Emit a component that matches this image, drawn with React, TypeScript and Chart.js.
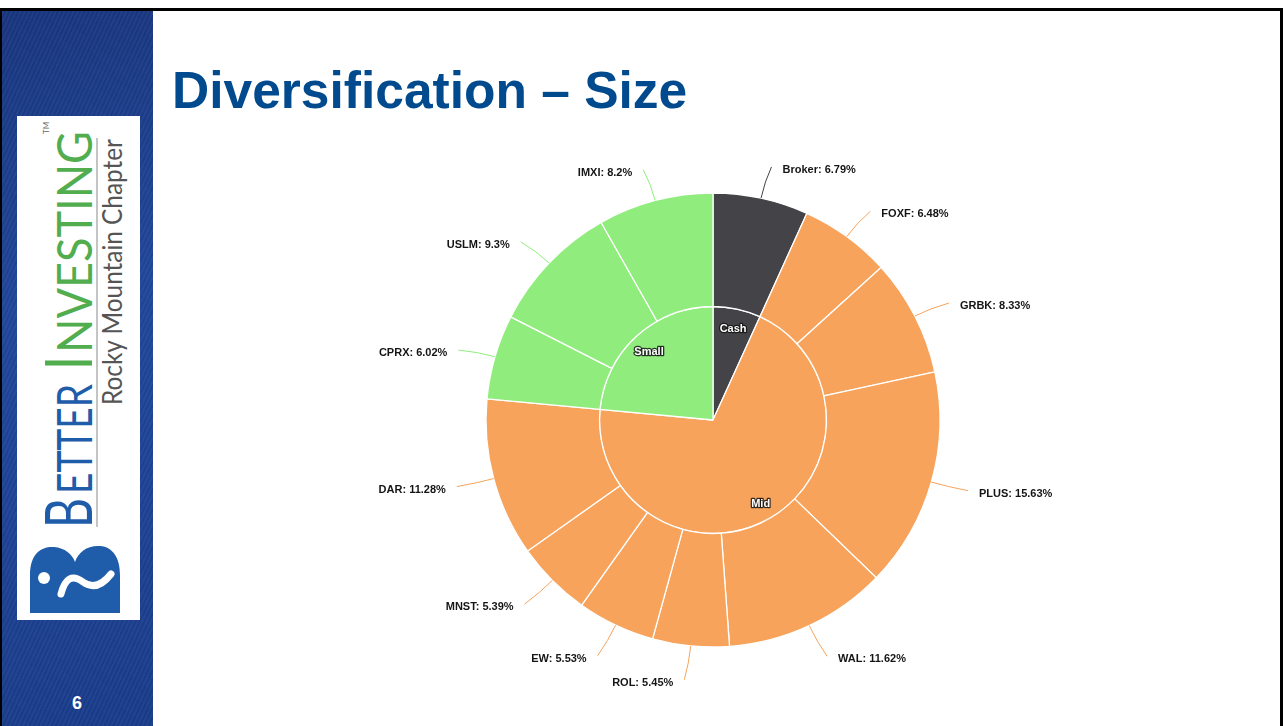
import React, { useEffect, useRef } from 'react';
import { Chart, registerables } from 'chart.js';

Chart.register(...registerables);

// ---- Data ----
const holdingLabels = ['Broker', 'FOXF', 'GRBK', 'PLUS', 'WAL', 'ROL', 'EW', 'MNST', 'DAR', 'CPRX', 'USLM', 'IMXI'];
const holdingValues = [6.79, 6.48, 8.33, 15.63, 11.62, 5.45, 5.53, 5.39, 11.28, 6.02, 9.3, 8.2];
const holdingGroups = ['Cash', 'Mid', 'Mid', 'Mid', 'Mid', 'Mid', 'Mid', 'Mid', 'Mid', 'Small', 'Small', 'Small'];
const groupLabels = ['Cash', 'Mid', 'Small'];
const groupValues = [6.79, 69.71, 23.52];
const groupColors: Record<string, string> = { Cash: '#434348', Mid: '#f7a35c', Small: '#90ed7d' };

const labelPlugin = {
  id: 'sunburstLabels',
  afterDatasetsDraw(chart: any) {
    const ctx = chart.ctx as CanvasRenderingContext2D;
    const outer = chart.getDatasetMeta(0);
    const inner = chart.getDatasetMeta(1);
    ctx.save();
    ctx.font = 'bold 11px "Liberation Sans", Arial, sans-serif';
    ctx.textBaseline = 'middle';
    outer.data.forEach((arc: any, i: number) => {
      const { x, y, startAngle, endAngle, outerRadius } = arc.getProps(['x', 'y', 'startAngle', 'endAngle', 'outerRadius'], true);
      const mid = (startAngle + endAngle) / 2;
      const c = Math.cos(mid);
      const s = Math.sin(mid);
      const side = c >= 0 ? 1 : -1;
      const dy = s < 0 ? 5 : 1;
      const ex = x + outerRadius * c;
      const ey = y + outerRadius * s;
      const kx = x + (outerRadius + 17) * c;
      const ky = y + (outerRadius + 17) * s;
      const px = x + (outerRadius + 35) * c;
      const py = y + (outerRadius + 35) * s + dy;
      const qx = px + side * 3;
      const qy = py - 2;
      ctx.strokeStyle = groupColors[holdingGroups[i]];
      ctx.lineWidth = 1;
      ctx.beginPath();
      ctx.moveTo(ex, ey);
      ctx.quadraticCurveTo(kx, ky, qx, qy);
      ctx.stroke();
      ctx.fillStyle = '#151515';
      ctx.textAlign = side > 0 ? 'left' : 'right';
      ctx.fillText(`${holdingLabels[i]}: ${holdingValues[i]}%`, px + side * 14, py + 1);
    });
    inner.data.forEach((arc: any, i: number) => {
      const { x, y, startAngle, endAngle } = arc.getProps(['x', 'y', 'startAngle', 'endAngle'], true);
      const mid = (startAngle + endAngle) / 2;
      const r = 95;
      const lx = x + r * Math.cos(mid);
      const ly = y + r * Math.sin(mid) + 2;
      ctx.textAlign = 'center';
      ctx.lineJoin = 'round';
      ctx.lineWidth = 2.5;
      ctx.strokeStyle = 'rgba(20,20,20,0.85)';
      ctx.strokeText(groupLabels[i], lx, ly);
      ctx.fillStyle = '#ffffff';
      ctx.fillText(groupLabels[i], lx, ly);
    });
    ctx.restore();
  },
};

export default function App() {
  const ref = useRef<HTMLCanvasElement>(null);

  useEffect(() => {
    if (!ref.current) return;
    const chart = new Chart(ref.current, {
      type: 'doughnut',
      data: {
        labels: holdingLabels,
        datasets: [
          {
            data: holdingValues,
            backgroundColor: holdingGroups.map((g) => groupColors[g]),
            borderColor: '#ffffff',
            borderWidth: 1.3,
          },
          {
            data: groupValues,
            backgroundColor: groupLabels.map((g) => groupColors[g]),
            borderColor: '#ffffff',
            borderWidth: 1.3,
          },
        ],
      },
      options: {
        responsive: false,
        animation: false,
        events: [],
        radius: 227,
        cutout: 0,
        layout: { padding: 0 },
        plugins: { legend: { display: false }, tooltip: { enabled: false } },
      } as any,
      plugins: [labelPlugin],
    });
    return () => chart.destroy();
  }, []);

  const navy = '#1f5caa';
  const green = '#52ad4f';

  return (
    <div
      style={{
        position: 'fixed',
        left: 0,
        top: 0,
        width: 1283,
        height: 726,
        background: '#ffffff',
        overflow: 'hidden',
        fontFamily: 'Arial, "Liberation Sans", sans-serif',
      }}
    >
      {/* frame */}
      <div
        style={{
          position: 'absolute',
          left: 0,
          top: 8,
          width: 1283,
          height: 740,
          borderTop: '3px solid #000',
          borderLeft: '2px solid #000',
          borderRight: '3px solid #000',
          boxSizing: 'border-box',
        }}
      />
      {/* sidebar */}
      <div
        style={{
          position: 'absolute',
          left: 2,
          top: 11,
          width: 151,
          height: 715,
          background:
            'repeating-linear-gradient(115deg, rgba(255,255,255,0.03) 0px, rgba(255,255,255,0.03) 2px, rgba(0,0,0,0.035) 2px, rgba(0,0,0,0.035) 4px), linear-gradient(165deg, #19367f 0%, #21479a 40%, #1e4395 70%, #1a3c8a 100%)',
        }}
      />
      {/* logo */}
      <svg style={{ position: 'absolute', left: 17, top: 116 }} width={123} height={504}>
        <rect x={0} y={0} width={123} height={504} fill="#ffffff" />
        <g transform="translate(0,504) rotate(-90)">
          <path
            d="M 7 13 L 45 13 C 68 13 74 26 73 37 C 72 48 66 55 58 58 C 68 61 75 71 74 83 C 73 96 62 103 45 103 L 7 103 Z"
            fill={navy}
          />
          <circle cx={42} cy={27} r={6} fill="#ffffff" />
          <path d="M 26 44 Q 50 50 38 66 Q 28 80 46 94" stroke="#ffffff" strokeWidth={7} fill="none" strokeLinecap="round" />
          <text x={92} y={75} fontSize={65} fill={navy} fontFamily="Lato" textLength={30} lengthAdjust="spacingAndGlyphs">B</text>
          <text x={126} y={75} fontSize={49} fill={navy} fontFamily="Lato" textLength={110} lengthAdjust="spacingAndGlyphs">ETTER</text>
          <text x={250} y={75} fontSize={65} fill={green} fontFamily="Lato" textLength={14} lengthAdjust="spacingAndGlyphs">I</text>
          <text x={267} y={75} fontSize={49} fill={green} fontFamily="Lato" textLength={222} lengthAdjust="spacingAndGlyphs">NVESTING</text>
          <text x={486} y={32} fontSize={8} fill="#666" fontFamily="Lato">TM</text>
          <line x1={93} y1={80} x2={482} y2={80} stroke="#b0b0b0" strokeWidth={1.5} />
          <text x={215} y={105} fontSize={26} fill="#555555" fontFamily="Lato" textLength={266} lengthAdjust="spacingAndGlyphs">Rocky Mountain Chapter</text>
        </g>
      </svg>
      {/* page number */}
      <div
        style={{
          position: 'absolute',
          left: 62,
          top: 694,
          width: 30,
          textAlign: 'center',
          color: '#ffffff',
          fontWeight: 'bold',
          fontSize: 18,
          lineHeight: '18px',
        }}
      >
        6
      </div>
      {/* title */}
      <div
        style={{
          position: 'absolute',
          left: 172,
          top: 65,
          color: '#004a8d',
          fontWeight: 'bold',
          fontSize: 51.5,
          lineHeight: '51px',
          whiteSpace: 'nowrap',
        }}
      >
        Diversification – Size
      </div>
      {/* chart */}
      <canvas
        ref={ref}
        width={760}
        height={600}
        style={{ position: 'absolute', left: 333, top: 120, width: 760, height: 600 }}
      />
    </div>
  );
}
